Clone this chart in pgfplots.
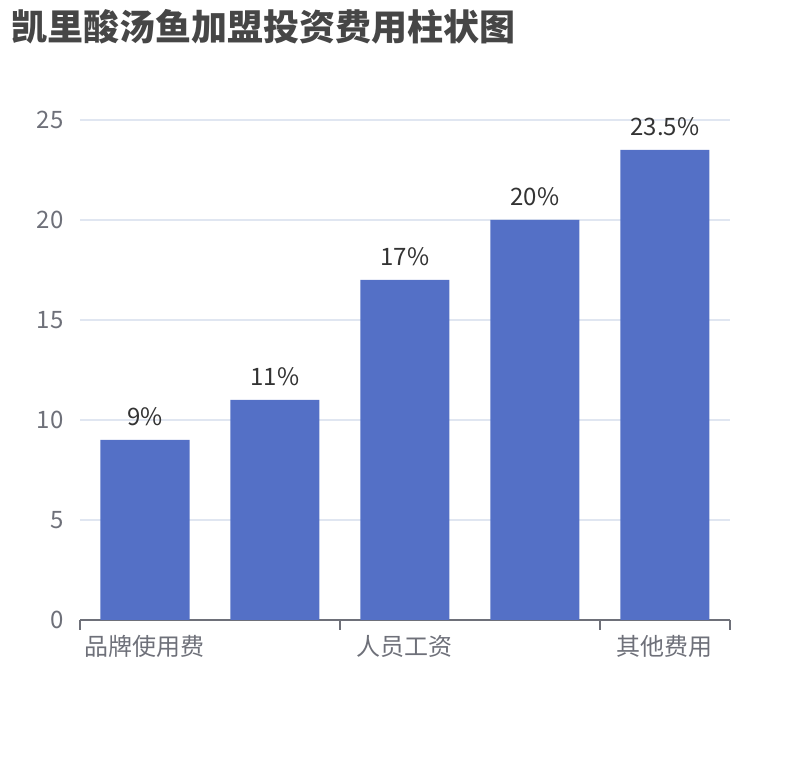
\documentclass[border=0pt]{standalone}
\usepackage{fontspec}
\setmainfont{Noto Sans CJK SC}
\usepackage{pgfplots}
\pgfplotsset{compat=1.18}
\definecolor{barblue}{HTML}{5470C6}
\definecolor{axisgrey}{HTML}{6E7079}
\definecolor{gridgrey}{HTML}{E0E6F1}
\definecolor{titlegrey}{HTML}{464646}
\definecolor{labelgrey}{HTML}{333333}
\begin{document}
\begin{tikzpicture}
  % page frame: 810 x 760 px, 1px = 0.5pt
  \path[use as bounding box] (0pt,0pt) rectangle (405pt,380pt);
  \node[anchor=west, inner sep=0pt, text=titlegrey, font=\fontsize{18pt}{20pt}\selectfont\bfseries]
    at (5.5pt,366.5pt) {凯里酸汤鱼加盟投资费用柱状图};
  \begin{axis}[
      at={(40pt,70pt)}, anchor=south west,
      scale only axis,
      width=325pt, height=250pt,
      xmin=-0.5, xmax=4.5,
      ymin=0, ymax=25,
      ytick={0,5,10,15,20,25},
      xtick={0,2,4},
      xticklabels={品牌使用费,人员工资,其他费用},
      extra x ticks={-0.5,1.5,3.5,4.5},
      extra x tick labels={},
      extra x tick style={major tick length=5pt, tick style={axisgrey, line width=0.6pt}},
      major tick length=0pt,
      tick align=outside,
      axis x line*=bottom,
      axis y line*=left,
      x axis line style={draw=axisgrey, line width=0.6pt},
      y axis line style={draw=none},
      ymajorgrids,
      grid style={gridgrey, line width=0.6pt},
      /pgf/number format/assume math mode=true,
      ticklabel style={font=\fontsize{12pt}{14pt}\selectfont, text=axisgrey, inner sep=0pt},
      yticklabel style={xshift=-8pt},
      xticklabel style={yshift=-7.5pt},
      ybar, bar width=44.5pt,
      nodes near coords={\pgfmathprintnumber{\pgfplotspointmeta}\%},
      every node near coord/.append style={font=\fontsize{12pt}{14pt}\selectfont, text=labelgrey, inner sep=0pt, yshift=7pt},
    ]
    \addplot[fill=barblue, draw=none] coordinates {
      (0,9) (1,11) (2,17) (3,20) (4,23.5)
    };
  \end{axis}
\end{tikzpicture}
\end{document}
